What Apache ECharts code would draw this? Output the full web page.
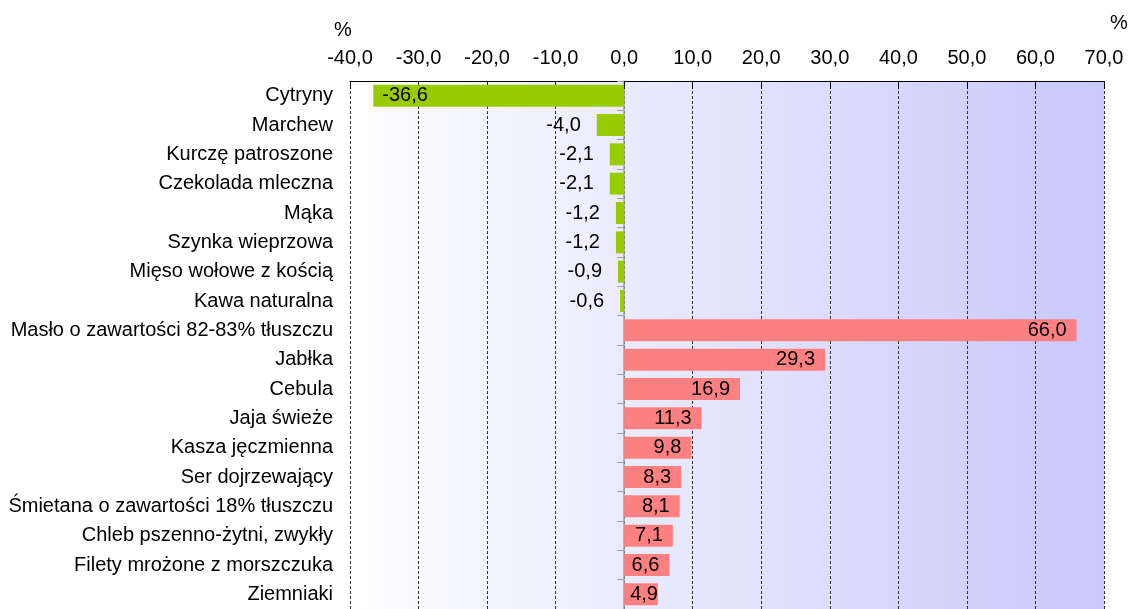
<!DOCTYPE html>
<html>
<head>
<meta charset="utf-8">
<script src="https://cdn.jsdelivr.net/npm/echarts@6/dist/echarts.min.js"></script>
<style>
  html, body { margin: 0; padding: 0; background: #fff; }
  #chart { width: 1129px; height: 609px; }
</style>
</head>
<body>
<div id="chart"></div>
<script>
// produkty i zmiana cen w %
const categories = [
  'Cytryny', 'Marchew', 'Kurczę patroszone', 'Czekolada mleczna', 'Mąka',
  'Szynka wieprzowa', 'Mięso wołowe z kością', 'Kawa naturalna',
  'Masło o zawartości 82-83% tłuszczu', 'Jabłka', 'Cebula', 'Jaja świeże',
  'Kasza jęczmienna', 'Ser dojrzewający', 'Śmietana o zawartości 18% tłuszczu',
  'Chleb pszenno-żytni, zwykły', 'Filety mrożone z morszczuka', 'Ziemniaki'
]
const values = [
  -36.6, -4.0, -2.1, -2.1, -1.2, -1.2, -0.9, -0.6,
  66.0, 29.3, 16.9, 11.3, 9.8, 8.3, 8.1, 7.1, 6.6, 4.9
]
const xTicks = { min: -40, max: 70, step: 10 }

const fmt = v => Number(v).toFixed(1).replace('.', ',')
const FONT = 'Liberation Sans, Arial, sans-serif'
const FS = 20

const chart = echarts.init(document.getElementById('chart'))

const barData = values.map(v => {
  let pos = 'insideRight', dist = 10
  if (v < 0) {
    // duży słupek - etykieta w środku, małe - po lewej
    if (Math.abs(v) > 10) { pos = 'insideLeft'; dist = 9 }
    else { pos = 'left'; dist = 16 }
  } else if (v < 6) {
    pos = 'insideLeft'; dist = 6
  }
  return {
    value: v,
    itemStyle: { color: v < 0 ? '#99cc00' : '#ff8080' },
    label: { position: pos, distance: dist }
  }
})

const option = {
  animation: false,
  textStyle: { fontFamily: FONT },
  grid: {
    left: 350, right: 25, top: 81, bottom: -7,
    show: true,
    borderWidth: 0,
    backgroundColor: new echarts.graphic.LinearGradient(0, 0, 1, 0, [
      { offset: 0, color: '#ffffff' },
      { offset: 1, color: '#c8c8fb' }
    ])
  },
  xAxis: {
    type: 'value',
    position: 'top',
    min: xTicks.min, max: xTicks.max, interval: xTicks.step,
    axisLine: { show: true, onZero: false, lineStyle: { color: '#000', width: 1 } },
    axisTick: { show: true, inside: true, length: 8, lineStyle: { color: '#000' } },
    axisLabel: { formatter: fmt, color: '#000', fontSize: FS, fontFamily: FONT, margin: 13 },
    splitLine: { show: true, lineStyle: { color: '#333', type: [3, 2], width: 1 } }
  },
  yAxis: [
    {
      type: 'category',
      data: categories,
      inverse: true,
      axisLine: { show: false, onZero: false },
      axisTick: { show: false },
      axisLabel: { color: '#000', fontSize: FS, fontFamily: FONT, margin: 17 }
    },
    {
      type: 'category',
      data: categories,
      inverse: true,
      position: 'left',
      axisLine: { show: true, onZero: true, lineStyle: { color: '#a0a0a0', width: 1.5 } },
      axisTick: { show: true, length: 7, lineStyle: { color: '#a0a0a0' } },
      axisLabel: { show: false }
    }
  ],
  series: [{
    type: 'bar',
    yAxisIndex: 0,
    barWidth: 22,
    data: barData,
    label: {
      show: true,
      color: '#000',
      fontSize: FS,
      fontFamily: FONT,
      formatter: p => fmt(p.value)
    }
  }],
  graphic: [
    { type: 'text', left: 334, top: 20, style: { text: '%', fontSize: FS, fontFamily: FONT, fill: '#000' } },
    { type: 'text', left: 1110, top: 13, style: { text: '%', fontSize: FS, fontFamily: FONT, fill: '#000' } }
  ]
}

chart.setOption(option)
</script>
</body>
</html>
